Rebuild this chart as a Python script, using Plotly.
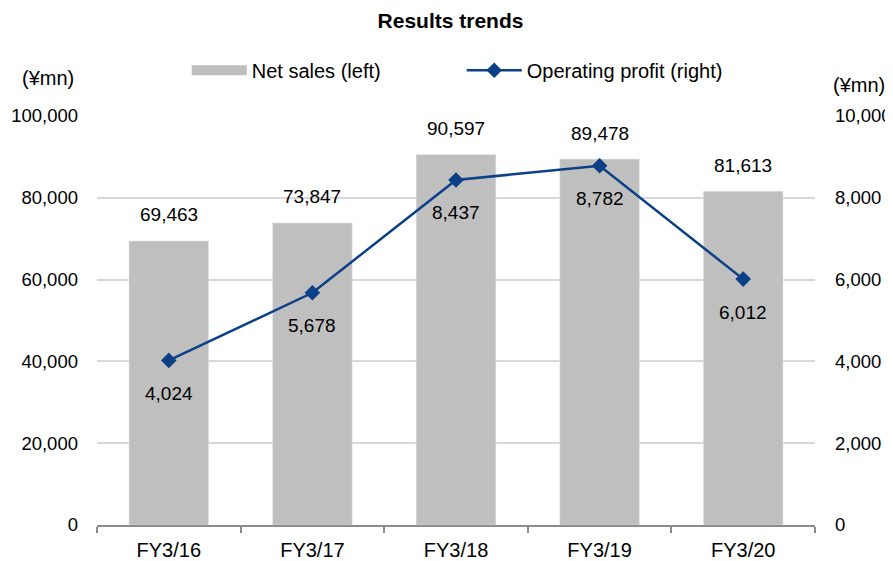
import plotly.graph_objects as go

# data
years = ['FY3/16', 'FY3/17', 'FY3/18', 'FY3/19', 'FY3/20']
net_sales = [69463, 73847, 90597, 89478, 81613]
op_profit = [4024, 5678, 8437, 8782, 6012]

FONT = 'Liberation Sans, Arial, sans-serif'
BLUE = '#0b3f86'
GRAY = '#bfbfbf'

fig = go.Figure()

fig.add_trace(go.Bar(x=years, y=net_sales, name='Net sales (left)',
                     marker=dict(color=GRAY), width=0.555, showlegend=False))
# legend-only entry so the bar key is a wide gray block like the original
fig.add_trace(go.Scatter(x=[None], y=[None], mode='lines', name='Net sales (left)',
                         line=dict(color=GRAY, width=13)))

fig.add_trace(go.Scatter(x=years, y=op_profit, name='Operating profit (right)',
                         yaxis='y2', mode='lines+markers',
                         line=dict(color=BLUE, width=2.5),
                         marker=dict(symbol='diamond', size=12, color=BLUE)))

# value labels (bars above, line below)
for yr, v in zip(years, net_sales):
    fig.add_annotation(x=yr, y=v, yref='y', text=f'{v:,}', showarrow=False,
                       yshift=26, font=dict(size=19, color='black'))
for yr, v in zip(years, op_profit):
    fig.add_annotation(x=yr, y=v, yref='y2', text=f'{v:,}', showarrow=False,
                       yshift=-33, font=dict(size=19, color='black'))

# unit labels
fig.add_annotation(x=-0.107, y=1.093, xref='paper', yref='paper', text='(¥mn)',
                   showarrow=False, xanchor='left', yanchor='middle', font=dict(size=20))
fig.add_annotation(x=1.100, y=1.076, xref='paper', yref='paper', text='(¥mn)',
                   showarrow=False, xanchor='right', yanchor='middle', font=dict(size=20))

# page body has an 8px margin, so the figure is laid out 8px smaller/offset
fig.update_layout(
    width=885, height=553,
    paper_bgcolor='white', plot_bgcolor='white',
    font=dict(family=FONT, size=20, color='black'),
    title=dict(text='<b>Results trends</b>', x=0.5, xanchor='center',
               y=0.978, yanchor='middle', font=dict(size=21)),
    margin=dict(l=89, r=78, t=108, b=36, autoexpand=False),
    legend=dict(orientation='h', x=0.508, xanchor='center', y=1.112, yanchor='middle',
                font=dict(size=20), itemwidth=55, bgcolor='rgba(0,0,0,0)',
                entrywidth=205),
    xaxis=dict(showline=True, linecolor='#8c8c8c', linewidth=2,
               ticks='outside', tickcolor='#8c8c8c', ticklen=6, tickwidth=2,
               tickson='boundaries', showgrid=False, ticklabelstandoff=6,
               automargin=False),
    yaxis=dict(range=[0, 100000], dtick=20000, tickformat=',d',
               tickfont=dict(size=18.5),
               showgrid=True, gridcolor='#d9d9d9', gridwidth=1.5,
               zeroline=False, showline=False, ticklabelstandoff=18,
               automargin=False),
    yaxis2=dict(range=[0, 10000], dtick=2000, tickformat=',d', overlaying='y',
                tickfont=dict(size=18.5),
                side='right', showgrid=False, zeroline=False, showline=False,
                ticklabelstandoff=19, automargin=False),
)

fig.write_html('out.html')
